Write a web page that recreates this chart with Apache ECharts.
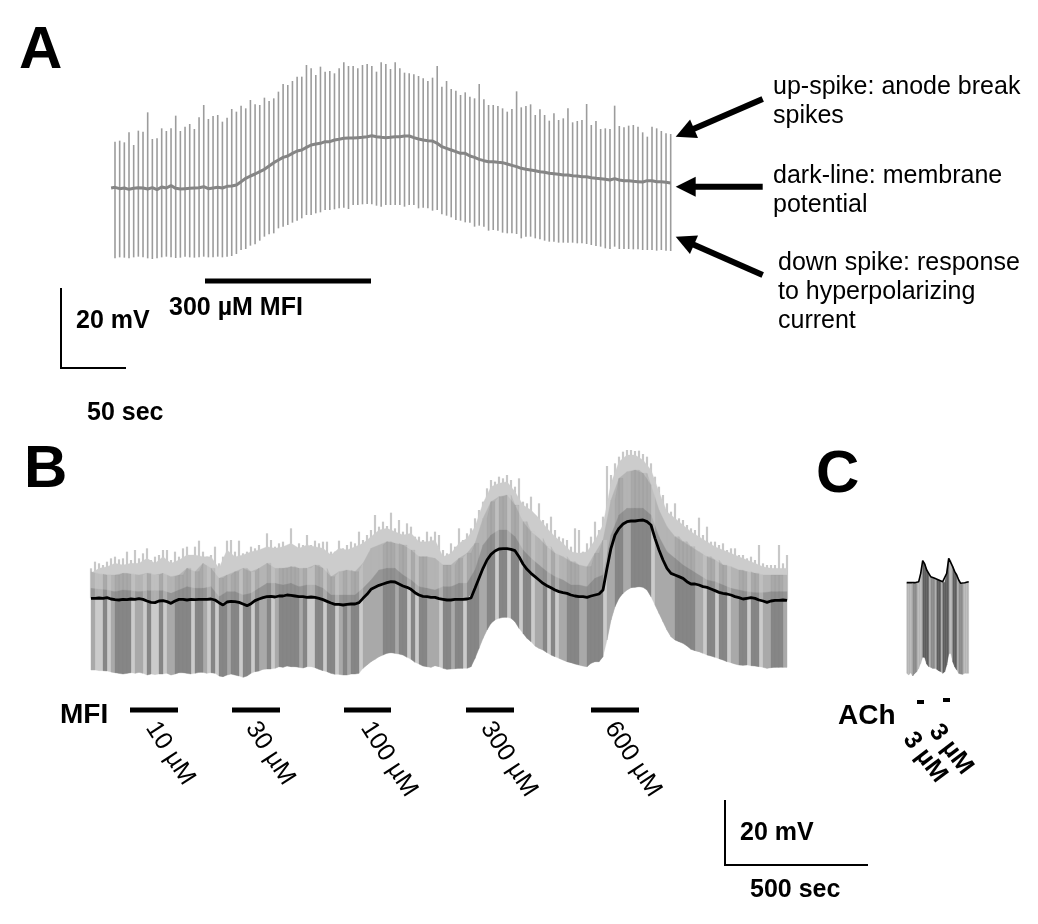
<!DOCTYPE html>
<html><head><meta charset="utf-8">
<style>html,body{margin:0;padding:0;background:#fff}#c{width:1038px;height:924px}</style>
<script src="https://cdn.jsdelivr.net/npm/echarts@6/dist/echarts.min.js"></script></head>
<body><div id="c"></div>
<script>
// ---- Panel A: digitised readings, one per spike
const upA = [275,272,277,247,285,242,245,187,267,265,235,243,235,197,243,230,222,237,202,165,207,198,195,215,203,177,185,167,175,150,163,165,143,153,145,125,102,105,93,80,80,45,55,75,50,65,63,70,55,37,48,48,55,45,42,48,65,37,42,57,37,
55,68,70,73,78,85,93,83,48,110,93,117,122,135,127,140,145,102,148,165,165,168,175,185,177,124,172,168,163,195,178,195,212,190,210,205,175,217,213,210,162,225,213,237,235,237,167,228,232,227,225,230,247,260,230,235,243,250,252];
const downA = [625,622,623,625,622,620,622,625,627,625,622,620,622,624,623,620,622,623,622,620,622,622,620,622,620,618,612,600,597,587,583,572,560,553,550,535,530,525,518,512,505,495,495,490,487,480,480,478,475,473,477,465,465,463,462,463,467,470,465,465,465,
465,470,465,465,475,473,475,482,480,493,497,502,510,512,517,518,530,527,530,542,540,542,548,550,550,552,565,560,560,565,568,572,575,575,578,578,578,578,580,580,582,585,588,590,595,597,590,597,597,597,598,598,600,600,600,602,600,602,603];
const membraneA = [412,416,414,418,415,413,414,417,413,419,411,414,407,415,417,416,415,414,413,410,416,414,412,414,409,408,405,395,385,378,372,365,358,348,338,330,322,318,310,303,300,292,285,282,280,275,275,270,268,265,264,264,263,262,260,257,260,262,263,262,260,
260,258,258,263,267,270,272,273,280,290,295,300,305,310,310,318,322,328,332,335,335,337,338,342,346,350,355,358,360,362,365,367,370,371,373,375,375,377,378,380,380,383,385,386,388,390,386,390,392,392,394,395,396,392,392,395,395,397,399];

// ---- Panel B: digitised readings, left and right crops, one per sample
const upperB1 = [205,185,190,195,185,175,170,178,175,155,180,150,175,160,145,180,170,165,150,150,180,155,170,145,140,165,140,122,155,170,165,140,190,170,122,120,155,122,160,155,140,145,135,148,100,120,140,130,125,140,85,150,130,135,105,135,122,130,125,125,155,155,122,145,135,125,130,95,120,105,90,45,80,65,78,38,85,60,95,70,80,110,110,120,95,110,95,105];
const upperB2 = [330,340,310,320,265,300,280,265,235,210,185,145,120,125,110,115,105,120,140,115,185,190,170,225,190,240,250,230,270,290,295,300,320,265,270,335,310,290,245,270,230,78,105,70,50,35,30,30,33,32,42,50,70,110,140,165,190,215,190,235,240,255,265,270,233,285,260,305,305,315,310,330,325,325,345,345,355,350,360,315,370,375,375,375,315,370,345];
const lowerB1 = [510,510,512,512,513,516,518,520,522,520,518,520,517,520,525,522,524,522,522,520,525,522,518,518,520,522,520,517,517,520,518,520,528,530,525,522,525,528,532,528,520,515,513,508,507,507,505,500,502,498,500,500,502,504,500,500,503,508,512,515,520,523,523,525,525,522,522,520,505,495,485,478,470,465,460,458,460,462,465,472,478,487,492,498,500,502,497,500];
const lowerB2 = [685,688,687,686,685,685,685,680,655,625,595,570,550,540,535,532,532,535,545,565,580,595,605,618,625,630,638,645,650,655,660,665,668,672,675,678,680,670,665,665,650,600,540,500,475,460,450,443,442,440,442,450,470,495,520,545,570,590,600,605,610,618,628,632,635,640,645,648,652,656,660,665,668,672,675,676,675,677,678,680,682,685,683,682,682,682,682];
const membraneB1 = [295,295,294,295,293,297,299,300,298,299,297,298,296,298,303,307,308,303,302,305,310,303,298,298,300,298,299,298,298,298,297,300,308,315,306,304,305,307,312,317,311,302,297,293,290,289,291,288,288,285,286,288,290,290,292,291,292,295,299,304,309,313,313,315,313,312,312,308,295,283,268,262,256,252,248,245,246,252,258,262,268,278,285,289,290,292,292,296];
const membraneB2 = [478,480,480,478,478,478,477,474,445,415,385,360,343,333,327,326,326,328,332,350,372,388,400,410,420,430,437,443,450,455,458,460,465,468,470,470,472,468,465,462,450,385,325,285,265,252,245,243,243,241,240,245,255,295,330,360,385,400,405,410,415,425,432,432,435,440,442,447,452,457,460,462,465,470,473,477,475,473,475,480,483,487,483,481,481,480,481];
// grey bands above the membrane trace, one reading per two samples
const lightTopB1 = [220,205,200,190,195,190,190,175,190,170,190,180,165,165,170,170,205,150,170,165,155,150,140,145,140,130,145,135,140,145,165,145,150,140,130,110,90,85,95,105,100,125,125,120];
const lightTopB2 = [350,340,310,295,260,190,140,130,125,155,195,210,235,265,290,310,335,340,335,300,255,130,65,45,45,60,90,155,215,235,255,275,290,305,320,330,340,350,360,370,380,385,385,385];
const midTopB1 = [215,222,225,225,220,222,225,220,225,220,230,225,205,215,190,205,235,225,215,205,215,205,190,205,205,200,205,205,195,205,230,215,210,215,190,145,135,125,130,135,150,170,170,175];
const midTopB2 = [375,375,355,340,310,235,185,170,165,195,245,275,295,320,340,350,365,375,380,340,300,180,115,95,90,100,135,210,260,290,305,320,335,350,360,375,380,390,395,400,405,405,405,405];
const darkTopB1 = [265,268,270,275,270,272,275,272,272,272,280,270,260,265,265,260,290,275,275,285,280,265,250,250,255,250,260,255,255,265,285,285,285,285,265,240,210,205,205,225,240,260,265,270];
const darkTopB2 = [440,440,430,430,390,315,285,270,270,290,330,355,375,395,410,420,435,435,440,415,405,285,225,205,205,205,225,290,335,355,375,390,405,420,425,435,445,450,455,458,458,455,455,455];
// sample ranges where the overlapping sweeps look darker
const darkRangesB = [[3,3],[6,9],[14,14],[17,17],[21,24],[26,27],[30,30],[32,33],[35,36],[38,39],[41,41],[44,44],[47,51],[53,53],[56,57],[59,60],[63,63],[65,66],[73,75],[77,78],[80,80],[82,83],[88,89],[91,92],[94,96],[99,100],[102,103],[105,106],[108,109],[113,113],[115,115],[119,121],[124,127],[131,132],[135,139],[146,150],[154,155],[157,158],[162,163],[165,166],[170,172]];
const midRangesB = [[0,0],[5,5],[11,12],[19,20],[28,28],[34,34],[42,43],[46,46],[52,52],[62,62],[64,64],[68,72],[76,76],[84,86],[90,90],[97,98],[111,112],[117,118],[122,123],[129,130],[133,134],[141,145],[151,152],[160,161],[168,169],[173,174]];

// ---- Panel C
const membraneC = [128,130,128,132,128,130,125,100,62,72,90,100,110,115,115,118,120,122,125,128,100,55,60,80,95,105,120,130,132,128,125,125];
const lowerC = [400,405,398,408,400,395,385,370,352,352,372,380,382,385,385,388,392,395,400,395,375,342,340,365,380,390,400,402,403,400,400,400];
const darkRangesC = [[8,10],[15,16],[18,20],[23,24]];
const midRangesC = [[3,4],[12,13],[26,27]];

// ---- Labels
const doseLabels = ['10 µM','30 µM','100 µM','300 µM','600 µM'];
const annotationLines = [['up-spike: anode break','spikes'],['dark-line: membrane','potential'],['down spike: response','to hyperpolarizing','current']];

// ---- Readings to millivolts
const mvA = r => (415 - r) / 12;
const mvB1 = r => (300 - r) / 9.75;
const mvB2 = r => (480 - r) / 9.75;
const mvC = r => (180 - r) / 9.75;
const dtA = 3.592, dtB = 14, dtC = 7;

const upperB = upperB1.map(mvB1).concat(upperB2.map(mvB2));
const lowerB = lowerB1.map(mvB1).concat(lowerB2.map(mvB2));
const membraneB = membraneB1.map(mvB1).concat(membraneB2.map(mvB2));
const lightTopB = lightTopB1.map(mvB1).concat(lightTopB2.map(mvB2));
const midTopB = midTopB1.map(mvB1).concat(midTopB2.map(mvB2));
const darkTopB = darkTopB1.map(mvB1).concat(darkTopB2.map(mvB2));

const inRanges = (i, rs) => rs.some(r => i >= r[0] && i <= r[1]);

// vertical sweep: [t, top, bottom]
function sweepRender(color, w) {
  return function (params, api) {
    const a = api.coord([api.value(0), api.value(1)]);
    const b = api.coord([api.value(0), api.value(2)]);
    return { type: 'rect', shape: { x: a[0] - w / 2, y: a[1], width: w, height: b[1] - a[1] }, style: { fill: color } };
  };
}
// quad between two time points: [t0, top0, bot0, t1, top1, bot1]
function quadRender(color) {
  return function (params, api) {
    const p = (x, y) => api.coord([api.value(x), api.value(y)]);
    return { type: 'polygon', shape: { points: [p(0, 1), p(3, 4), p(3, 5), p(0, 2)] }, style: { fill: color, stroke: color, lineWidth: 0.3 } };
  };
}
function custom(gridIndex, render, data, z) {
  return { type: 'custom', xAxisIndex: gridIndex, yAxisIndex: gridIndex, coordinateSystem: 'cartesian2d',
    renderItem: render, data, z, silent: true, animation: false, clip: false,
    encode: { x: 0, y: [1, 2] } };
}
function lineSeries(gridIndex, color, width, data, z) {
  return { type: 'line', xAxisIndex: gridIndex, yAxisIndex: gridIndex, data, symbol: 'none', z, silent: true,
    lineStyle: { color, width }, animation: false };
}

// Panel A series data
const spikesA = upA.map((u, i) => [i * dtA, mvA(u), mvA(downA[i])]);
const memA = [[-3, mvA(414)]].concat(membraneA.map((m, i) => [i * dtA, mvA(m)]));

// Panel B series data
const tipsB = upperB.map((u, i) => [i * dtB, u, membraneB[i]]);
const bandQuads = arr => arr.slice(0, -1).map((v, m) => {
  const i = m * 2;
  return [i * dtB, v, membraneB[i], (i + 2) * dtB, arr[m + 1], membraneB[i + 2]];
});
const stripeQuads = (topOf, pick) => membraneB.slice(0, -1).map((m, i) => [i, m]).filter(d => pick(d[0])).map(d => {
  const i = d[0];
  return [i * dtB, topOf(i), d[1], (i + 1) * dtB, topOf(i + 1), membraneB[i + 1]];
});
const bodyQuads = pick => lowerB.slice(0, -1).map((l, i) => [i, l]).filter(d => pick(d[0])).map(d => {
  const i = d[0];
  return [i * dtB, membraneB[i], d[1], (i + 1) * dtB, membraneB[i + 1], lowerB[i + 1]];
});
const midAt = i => midTopB[Math.floor(i / 2)];
const isDark = i => inRanges(i, darkRangesB), isMid = i => inRanges(i, midRangesB);

// Panel C series data
const topC = membraneC.map(mvC), botC = lowerC.map(mvC);
const bodyC = pick => topC.slice(0, -1).map((t, k) => [k, t]).filter(d => pick(d[0])).map(d => {
  const k = d[0];
  return [k * dtC, d[1], botC[k], (k + 1) * dtC, topC[k + 1], botC[k + 1]];
});

const axes = (g, xr, yr) => ({
  x: { gridIndex: g, type: 'value', min: xr[0], max: xr[1], show: false },
  y: { gridIndex: g, type: 'value', min: yr[0], max: yr[1], show: false }
});
const axA = axes(0, [-3, 430], [-25, 35]);
const axB = axes(1, [0, 2436], [-30, 50]);
const axC = axes(2, [0, 217], [-30, 20]);

// ---- Annotations
const FF = '"Liberation Sans", Arial, sans-serif';
const G = [];
const txt = (text, x, y, size, bold, rot) => G.push({ type: 'text', x, y, rotation: (rot || 0) * Math.PI / 180, z: 20,
  style: { text, fontFamily: FF, fontSize: size, fontWeight: bold ? 'bold' : 'normal', fill: '#000', align: 'left', verticalAlign: 'middle' } });
const seg = (x1, y1, x2, y2, w) => G.push({ type: 'line', z: 20, shape: { x1, y1, x2, y2 }, style: { stroke: '#000', lineWidth: w } });
const arrow = (x1, y1, x2, y2) => {
  const L = Math.hypot(x2 - x1, y2 - y1), ux = (x2 - x1) / L, uy = (y2 - y1) / L;
  const hl = 20, hw = 10, bx = x2 - ux * hl, by = y2 - uy * hl;
  seg(x1, y1, bx + ux * 2, by + uy * 2, 6);
  G.push({ type: 'polygon', z: 20, shape: { points: [[x2, y2], [bx - uy * hw, by + ux * hw], [bx + uy * hw, by - ux * hw]] }, style: { fill: '#000' } });
};
txt('A', 19, 51, 60, true); txt('B', 24, 470, 60, true); txt('C', 816, 475, 60, true);
annotationLines[0].forEach((t, i) => txt(t, 773, 87 + 29 * i, 25));
annotationLines[1].forEach((t, i) => txt(t, 773, 176 + 29 * i, 25));
annotationLines[2].forEach((t, i) => txt(t, 778, 263 + 29 * i, 25));
arrow(762.7, 99, 675.7, 136.7); arrow(762.7, 186.7, 675.7, 186.7); arrow(762.7, 275, 675.7, 236.7);
seg(205, 281, 371, 281, 5);
txt('300 µM MFI', 169, 308, 25, true);
seg(61, 288, 61, 369, 2); seg(60, 368, 126, 368, 2);
txt('20 mV', 76, 321, 25, true); txt('50 sec', 87, 413, 25, true);
txt('MFI', 60, 715, 28, true);
[[130, 178], [232, 280], [344, 391], [466, 514], [591, 639]].forEach(b => seg(b[0], 710, b[1], 710, 5));
[[151, 724], [251, 724], [366, 724], [486, 724], [610, 724]].forEach((p, i) => txt(doseLabels[i], p[0], p[1], 25, false, -57));
seg(725, 800, 725, 866, 2); seg(724, 865, 868, 865, 2);
txt('20 mV', 740, 833, 25, true); txt('500 sec', 750, 890, 25, true);
txt('ACh', 838, 716, 28, true);
seg(917, 702, 924, 702, 4); seg(943, 700, 950, 700, 4);
txt('3 µM', 908, 735, 25, true, -53); txt('3 µM', 934, 727, 25, true, -53);

const chart = echarts.init(document.getElementById('c'), null, { renderer: 'canvas' });
chart.setOption({
  animation: false, backgroundColor: '#fff',
  grid: [
    { left: 111.1, top: 48.33, width: 562.9, height: 240, show: false },
    { left: 91, top: 437.5, width: 696, height: 260, show: false },
    { left: 906.7, top: 535, width: 62, height: 162.5, show: false }
  ],
  xAxis: [axA.x, axB.x, axC.x],
  yAxis: [axA.y, axB.y, axC.y],
  graphic: { elements: G },
  series: [
    custom(0, sweepRender('#9c9c9c', 1.6), spikesA, 2),
    lineSeries(0, '#858585', 3, memA, 3),
    custom(1, sweepRender('#c8c8c8', 2.2), tipsB, 2),
    custom(1, quadRender('#cccccc'), bandQuads(lightTopB), 3),
    custom(1, quadRender('#b4b4b4'), bandQuads(midTopB), 4),
    custom(1, quadRender('#959595'), bandQuads(darkTopB), 5),
    custom(1, quadRender('rgba(205,205,205,0.45)'), stripeQuads(midAt, i => !isDark(i) && !isMid(i)), 6),
    custom(1, quadRender('rgba(110,110,110,0.16)'), stripeQuads(midAt, isDark), 6),
    custom(1, quadRender('#cbcbcb'), bodyQuads(() => true), 7),
    custom(1, quadRender('#a9a9a9'), bodyQuads(isMid), 8),
    custom(1, quadRender('#868686'), bodyQuads(isDark), 9),
    lineSeries(1, '#000', 2.8, membraneB.map((m, i) => [i * dtB, m]), 10),
    custom(2, quadRender('#b4b4b4'), bodyC(() => true), 3),
    custom(2, quadRender('#8c8c8c'), bodyC(k => inRanges(k, midRangesC)), 4),
    custom(2, quadRender('#5e5e5e'), bodyC(k => inRanges(k, darkRangesC)), 5),
    lineSeries(2, '#000', 1.6, topC.map((m, k) => [k * dtC, m]), 6)
  ]
});
</script></body></html>
